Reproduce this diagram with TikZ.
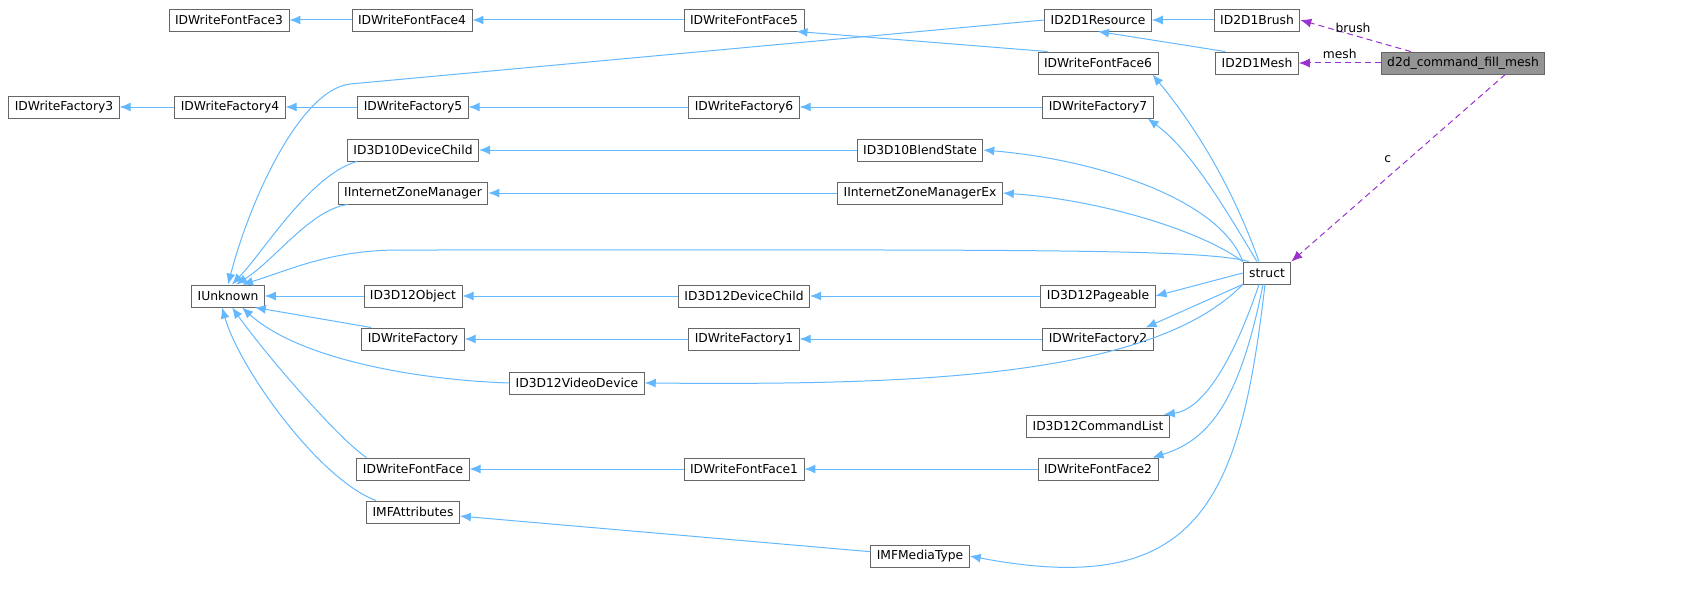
\documentclass[tikz,border=0pt]{standalone}
\usepackage{fontspec}
\setmainfont{DejaVu Sans}
\usetikzlibrary{arrows.meta}
\definecolor{inh}{HTML}{63B8FF}
\definecolor{use}{HTML}{9A32CD}
\begin{document}
\begin{tikzpicture}[x=1pt,y=-1pt,
 n/.style={draw=black!60,fill=white,minimum height=22pt,inner xsep=6pt,inner ysep=0pt,line width=0.9pt,font=\fontsize{12.3}{14}\selectfont,anchor=center},
 e/.style={draw=inh,-{Latex[length=11pt,width=9pt]},line width=1pt},
 u/.style={draw=use,dashed,dash pattern=on 6pt off 4pt,-{Latex[length=11pt,width=9pt]},line width=1pt},
 lb/.style={font=\fontsize{12.3}{14}\selectfont}]
\useasboundingbox (0,0) rectangle (1699,594);
\node[n] (ff3) at (229,20) {IDWriteFontFace3};
\node[n] (ff4) at (412,20) {IDWriteFontFace4};
\node[n] (ff5) at (744,20) {IDWriteFontFace5};
\node[n] (res) at (1098,20) {ID2D1Resource};
\node[n] (brush) at (1257,20) {ID2D1Brush};
\node[n,fill=black!42] (d2d) at (1463,63) {d2d\_command\_fill\_mesh};
\node[n] (mesh) at (1257,63) {ID2D1Mesh};
\node[n] (ff6) at (1098,63) {IDWriteFontFace6};
\node[n] (f3) at (64,107) {IDWriteFactory3};
\node[n] (f4) at (230,107) {IDWriteFactory4};
\node[n] (f5) at (413,107) {IDWriteFactory5};
\node[n] (f6) at (744,107) {IDWriteFactory6};
\node[n] (f7) at (1098,107) {IDWriteFactory7};
\node[n] (d10) at (413,150) {ID3D10DeviceChild};
\node[n] (blend) at (920,150) {ID3D10BlendState};
\node[n] (izm) at (413,193) {IInternetZoneManager};
\node[n] (izmex) at (920,193) {IInternetZoneManagerEx};
\node[n] (st) at (1267,273) {struct};
\node[n] (unk) at (228,296) {IUnknown};
\node[n] (obj) at (413,296) {ID3D12Object};
\node[n] (dc12) at (744,296) {ID3D12DeviceChild};
\node[n] (pag) at (1098,296) {ID3D12Pageable};
\node[n] (f) at (413,339) {IDWriteFactory};
\node[n] (f1) at (744,339) {IDWriteFactory1};
\node[n] (f2) at (1098,339) {IDWriteFactory2};
\node[n] (vid) at (577,383) {ID3D12VideoDevice};
\node[n] (cmd) at (1098,426) {ID3D12CommandList};
\node[n] (ff) at (413,469) {IDWriteFontFace};
\node[n] (ff1) at (744,469) {IDWriteFontFace1};
\node[n] (ff2) at (1098,469) {IDWriteFontFace2};
\node[n] (mfa) at (413,512) {IMFAttributes};
\node[n] (mft) at (920,556) {IMFMediaType};
% inheritance
\draw[e] (ff4) -- (ff3);
\draw[e] (ff5) -- (ff4);
\draw[e] ([xshift=10pt]ff6.north west) -- ([xshift=-8pt]ff5.south east);
\draw[e] (brush) -- (res);
\draw[e] ([xshift=10pt]mesh.north west) -- (res.south);
\draw[e] (res.west) -- (350,84) .. controls (300,90) and (250,200) .. (unk.north);
\draw[e] (f4) -- (f3);
\draw[e] (f5) -- (f4);
\draw[e] (f6) -- (f5);
\draw[e] (f7) -- (f6);
\draw[e] ([xshift=10pt]d10.south west) .. controls (310,175) and (265,250) .. ([xshift=4pt]unk.north);
\draw[e] (blend) -- (d10);
\draw[e] ([xshift=10pt]izm.south west) .. controls (310,210) and (275,260) .. ([xshift=8pt]unk.north);
\draw[e] (izmex) -- (izm);
\draw[e] ([xshift=6pt]st.north west) .. controls (1200,248) and (1000,250) .. (400,250) .. controls (330,250) and (290,270) .. ([xshift=14pt]unk.north);
\draw[e] (obj) -- (unk);
\draw[e] (dc12) -- (obj);
\draw[e] (pag) -- (dc12);
\draw[e] ([xshift=10pt]f.north west) -- ([xshift=-10pt]unk.south east);
\draw[e] (f1) -- (f);
\draw[e] (f2) -- (f1);
\draw[e] (vid.west) .. controls (420,380) and (300,360) .. ([xshift=14pt]unk.south);
\draw[e] ([xshift=10pt]ff.north west) .. controls (340,440) and (270,360) .. ([xshift=4pt]unk.south);
\draw[e] (ff1) -- (ff);
\draw[e] (ff2) -- (ff1);
\draw[e] ([xshift=10pt]mfa.north west) .. controls (320,480) and (240,370) .. ([xshift=-6pt]unk.south);
\draw[e] (mft) -- (mfa);
% struct
\draw[e] ([xshift=-8pt]st.north) .. controls (1230,180) and (1190,120) .. ([xshift=-6pt]ff6.south east);
\draw[e] ([xshift=-10pt]st.north) .. controls (1220,200) and (1190,150) .. ([xshift=-6pt]f7.south east);
\draw[e] (st.north west) .. controls (1220,200) and (1100,160) .. (blend.east);
\draw[e] (st.north west) .. controls (1200,230) and (1100,200) .. (izmex.east);
\draw[e] (st.west) -- (pag.east);
\draw[e] (st.south west) -- ([xshift=-8pt]f2.north east);
\draw[e] (st.south west) .. controls (1150,380) and (900,385) .. (vid.east);
\draw[e] ([xshift=-8pt]st.south) .. controls (1230,370) and (1200,410) .. ([xshift=-6pt]cmd.north east);
\draw[e] ([xshift=-4pt]st.south) .. controls (1240,400) and (1210,440) .. ([xshift=-6pt]ff2.north east);
\draw[e] ([xshift=-2pt]st.south) .. controls (1240,500) and (1200,600) .. (mft.east);
% uses
\draw[u] ([xshift=30pt]d2d.north west) -- node[lb,above,pos=0.45,xshift=-8pt,yshift=1pt] {brush} (brush.east);
\draw[u] (d2d.west) -- node[lb,above] {mesh} (mesh.east);
\draw[u] ([xshift=-40pt]d2d.south east) -- node[lb,left,pos=0.45,xshift=-14pt] {c} (st.north east);
\end{tikzpicture}
\end{document}
